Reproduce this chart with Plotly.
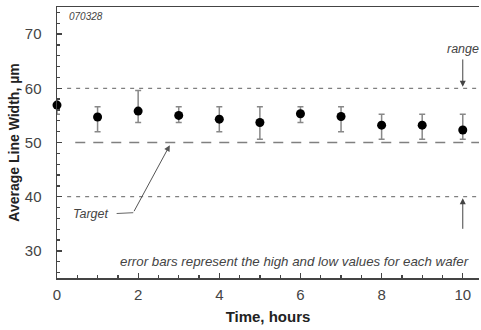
import plotly.graph_objects as go

hours = [0, 1, 2, 3, 4, 5, 6, 7, 8, 9, 10]
mean_width = [56.9, 54.7, 55.8, 55.0, 54.3, 53.7, 55.3, 54.8, 53.2, 53.2, 52.3]
high_width = [58.0, 56.6, 59.6, 56.6, 56.6, 56.6, 56.6, 56.6, 55.2, 55.2, 55.2]
low_width = [55.2, 52.0, 53.7, 53.7, 52.0, 50.6, 53.7, 52.0, 50.6, 50.6, 50.6]

target = 50
range_high = 60
range_low = 40

err_plus = [h - m for h, m in zip(high_width, mean_width)]
err_minus = [m - l for m, l in zip(mean_width, low_width)]

FONT = "Liberation Sans, Arial, sans-serif"

fig = go.Figure()
fig.add_trace(go.Scatter(
    x=hours, y=mean_width, mode="markers",
    marker=dict(color="black", size=9),
    error_y=dict(type="data", symmetric=False, array=err_plus, arrayminus=err_minus,
                 color="#888888", thickness=1.5, width=3),
    showlegend=False, cliponaxis=False, hoverinfo="skip",
))

shapes = [
    dict(type="line", xref="x", yref="y", x0=0.25, x1=10.4, y0=range_high, y1=range_high,
         line=dict(color="#808080", width=1.3, dash="4px,5px")),
    dict(type="line", xref="x", yref="y", x0=0.45, x1=10.4, y0=target, y1=target,
         line=dict(color="#808080", width=1.3, dash="10px,8px")),
    dict(type="line", xref="x", yref="y", x0=0.25, x1=10.4, y0=range_low, y1=range_low,
         line=dict(color="#808080", width=1.3, dash="4px,5px")),
    dict(type="line", xref="x", yref="y", x0=1.47, x1=1.88, y0=36.9, y1=37.05,
         line=dict(color="#666666", width=1)),
]

annotations = [
    dict(x=2.78, y=49.5, ax=1.88, ay=37.05, xref="x", yref="y", axref="x", ayref="y",
         showarrow=True, arrowhead=2, arrowsize=1.2, arrowwidth=1, arrowcolor="#555555", text=""),
    dict(x=0.84, y=36.9, xref="x", yref="y", text="<i>Target</i>", showarrow=False,
         font=dict(family=FONT, size=12.5, color="#444444")),
    dict(x=10, y=60.3, ax=10, ay=65.6, xref="x", yref="y", axref="x", ayref="y",
         showarrow=True, arrowhead=2, arrowsize=1.2, arrowwidth=1, arrowcolor="#444444", text=""),
    dict(x=10, y=67.3, xref="x", yref="y", text="<i>range</i>", showarrow=False,
         font=dict(family=FONT, size=12.5, color="#444444")),
    dict(x=10, y=39.7, ax=10, ay=33.8, xref="x", yref="y", axref="x", ayref="y",
         showarrow=True, arrowhead=2, arrowsize=1.2, arrowwidth=1, arrowcolor="#444444", text=""),
    dict(x=5.86, y=28.0, xref="x", yref="y",
         text="<i>error bars represent the high and low values for each wafer</i>",
         showarrow=False, font=dict(family=FONT, size=13.3, color="#444444")),
    dict(x=0.24, y=73.3, xref="x", yref="y", xanchor="left", text="<i>070328</i>",
         showarrow=False, font=dict(family=FONT, size=10, color="#444444")),
]

fig.update_layout(
    width=481, height=330,
    margin=dict(l=57, r=2, t=7, b=52),
    paper_bgcolor="white", plot_bgcolor="white",
    font=dict(family=FONT, size=13, color="#333333"),
    shapes=shapes, annotations=annotations,
    hovermode=False,
    xaxis=dict(
        range=[0, 10.4], tick0=0, dtick=2, ticks="inside", ticklen=5, tickwidth=1.3,
        tickcolor="#444444", showline=True, linecolor="#444444", linewidth=1.5,
        mirror=True, showgrid=False, zeroline=False, automargin=False,
        ticklabelstandoff=2,
        minor=dict(dtick=0.5, ticks="inside", ticklen=3, tickcolor="#444444", showgrid=False),
        title=dict(text="<b>Time, hours</b>", font=dict(family=FONT, size=15, color="#222222"),
                   standoff=10),
        tickfont=dict(size=15, color="#444444"),
    ),
    yaxis=dict(
        range=[25, 75], tick0=30, dtick=10, ticks="inside", ticklen=5, tickwidth=1.3,
        tickcolor="#444444", showline=True, linecolor="#444444", linewidth=1.5,
        showgrid=False, zeroline=False, automargin=False,
        ticklabelstandoff=11,
        minor=dict(dtick=2, ticks="inside", ticklen=3, tickcolor="#444444", showgrid=False),
        title=dict(text="<b>Average Line Width, µm</b>",
                   font=dict(family=FONT, size=14, color="#222222"), standoff=2),
        tickfont=dict(size=15, color="#444444"),
    ),
)

fig.write_html("out.html", config={"displayModeBar": False, "staticPlot": True},
               post_script="document.body.style.margin='0';")
